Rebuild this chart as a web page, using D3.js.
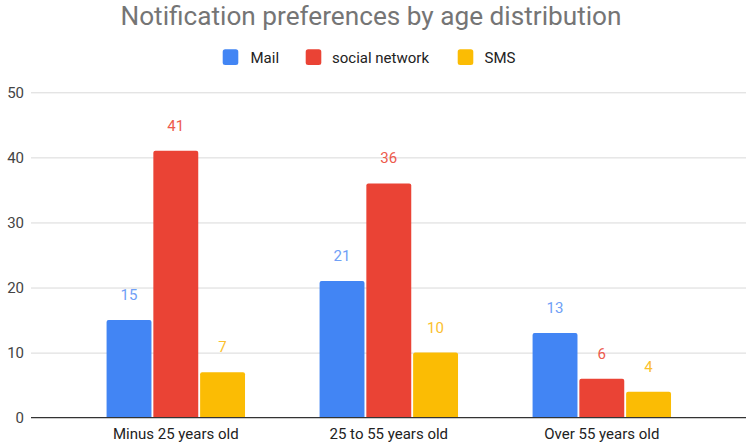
<!DOCTYPE html>
<html>
<head>
<meta charset="utf-8">
<script src="https://cdn.jsdelivr.net/npm/d3@7"></script>
<style>
  html, body { margin: 0; padding: 0; background: #fff; }
  svg { display: block; font-family: Roboto, Arial, sans-serif; }
</style>
</head>
<body>
<svg id="chart" width="746" height="445"></svg>
<script>
// Chart data
const categories = ["Minus 25 years old", "25 to 55 years old", "Over 55 years old"];
const seriesNames = ["Mail", "social network", "SMS"];
const mailValues = [15, 21, 13];
const socialValues = [41, 36, 6];
const smsValues = [7, 10, 4];
const yTicks = [0, 10, 20, 30, 40, 50];

const seriesValues = [mailValues, socialValues, smsValues];
const barColors = ["#4285f4", "#ea4335", "#fbbc04"];
const labelColors = ["#6fa0f6", "#ed5a4c", "#fbc02d"];

const svg = d3.select("#chart");
const plot = { left: 31, right: 746, top: 92.3, bottom: 417.7 };

const y = d3.scaleLinear().domain([0, 50]).range([plot.bottom, plot.top]);

const x0 = d3.scaleBand()
  .domain(categories)
  .range([69.3, 708.3])
  .paddingInner(0.35)
  .paddingOuter(0.175);

const x1 = d3.scaleBand()
  .domain(seriesNames)
  .range([0, x0.bandwidth()])
  .paddingInner(0.04);

// Title
svg.append("text")
  .attr("x", 371)
  .attr("y", 25)
  .attr("text-anchor", "middle")
  .attr("fill", "#757575")
  .style("font-size", "26.2px")
  .text("Notification preferences by age distribution");

// Legend
const legendItems = [
  { name: "Mail", sx: 222.7, tx: 250.5 },
  { name: "social network", sx: 305.7, tx: 332 },
  { name: "SMS", sx: 457.7, tx: 484.5 }
];
const legend = svg.append("g");
legendItems.forEach((d, i) => {
  legend.append("rect")
    .attr("x", d.sx).attr("y", 49.3)
    .attr("width", 15.6).attr("height", 15.6)
    .attr("rx", 2.5)
    .attr("fill", barColors[i]);
  legend.append("text")
    .attr("x", d.tx).attr("y", 62.5)
    .attr("fill", "#222")
    .style("font-size", "15px")
    .text(d.name);
});

// Gridlines + y axis labels
const yAxis = d3.axisLeft(y).tickValues(yTicks).tickSize(-(plot.right - plot.left)).tickPadding(6);
const gy = svg.append("g")
  .attr("transform", `translate(${plot.left},0)`)
  .call(yAxis);
gy.select(".domain").remove();
gy.selectAll(".tick line").attr("stroke", "#d9d9d9").attr("stroke-width", 1);
gy.selectAll(".tick text")
  .attr("fill", "#444")
  .attr("x", -7)
  .style("font-size", "15px")
  .style("font-family", "Roboto, Arial, sans-serif");
gy.selectAll(".tick").filter(d => d === 0).select("line").attr("stroke", "none");

// Bars
const groups = svg.append("g").selectAll("g")
  .data(categories)
  .join("g")
  .attr("transform", d => `translate(${x0(d)},0)`);

const r = 2;
function topRounded(xp, yp, w, h) {
  const rr = Math.min(r, h / 2, w / 2);
  return `M${xp},${yp + h}V${yp + rr}Q${xp},${yp} ${xp + rr},${yp}H${xp + w - rr}Q${xp + w},${yp} ${xp + w},${yp + rr}V${yp + h}Z`;
}

groups.each(function(cat, ci) {
  const g = d3.select(this);
  const items = seriesNames.map((s, si) => ({ s, si, v: seriesValues[si][ci] }));
  g.selectAll("path.bar")
    .data(items)
    .join("path")
    .attr("class", "bar")
    .attr("fill", d => barColors[d.si])
    .attr("d", d => topRounded(x1(d.s), y(d.v), x1.bandwidth(), y(0) - y(d.v)));
  g.selectAll("text.val")
    .data(items)
    .join("text")
    .attr("class", "val")
    .attr("x", d => x1(d.s) + x1.bandwidth() / 2)
    .attr("y", d => y(d.v) - 20)
    .attr("text-anchor", "middle")
    .attr("fill", d => labelColors[d.si])
    .style("font-size", "15px")
    .text(d => d.v);
});

// Baseline
svg.append("line")
  .attr("x1", plot.left).attr("x2", plot.right)
  .attr("y1", y(0)).attr("y2", y(0))
  .attr("stroke", "#333").attr("stroke-width", 1.2);

// Category labels
const xAxis = d3.axisBottom(x0).tickSize(0).tickPadding(11);
const gx = svg.append("g")
  .attr("transform", `translate(0,${plot.bottom})`)
  .call(xAxis);
gx.select(".domain").remove();
gx.selectAll(".tick text")
  .attr("fill", "#222")
  .style("font-size", "15px")
  .style("font-family", "Roboto, Arial, sans-serif");
</script>
</body>
</html>
